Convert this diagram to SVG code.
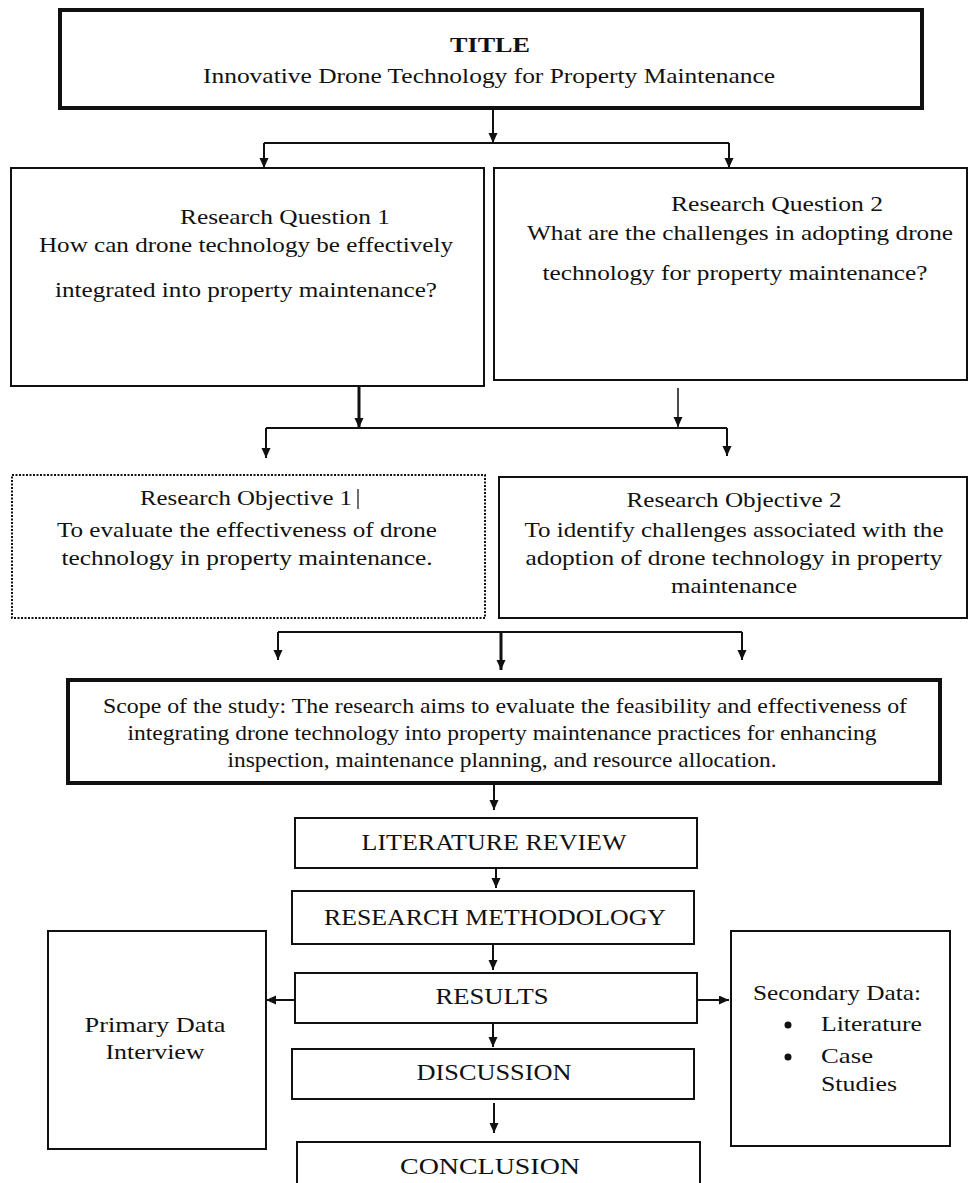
<svg xmlns="http://www.w3.org/2000/svg" width="968" height="1183" viewBox="0 0 968 1183">
<style>
text{font-family:"Liberation Serif","Times New Roman",serif;fill:#111;text-anchor:middle}
.t20{font-size:22px}
.t19{font-size:22px}
.t18{font-size:21px}
.cap{font-size:23px}
.box{fill:#fff;stroke:#111;stroke-width:2}
.thick{fill:#fff;stroke:#111;stroke-width:4}
.dot{fill:#fff;stroke:#111;stroke-width:2;stroke-dasharray:2 1.5}
.c{fill:none;stroke:#111;stroke-width:2}
.cw{fill:none;stroke:#111;stroke-width:3}
.cn{fill:none;stroke:#111;stroke-width:1.5}
.a{marker-end:url(#ah)}
</style>
<defs>
<marker id="ah" markerUnits="userSpaceOnUse" markerWidth="10" markerHeight="10" refX="10" refY="4.5" orient="auto">
<path d="M0,0 L10,4.5 L0,9 z" fill="#111"/>
</marker>
</defs>
<rect width="968" height="1183" fill="#fff"/>

<g id="connectors">
<path class="c a" d="M493,108 V143"/>
<path class="c" d="M264,143 H729"/>
<path class="c a" d="M264,143 V168"/>
<path class="c a" d="M729,143 V168"/>
<path class="cw a" d="M359,387 V428"/>
<path class="cn a" d="M678,388 V427"/>
<path class="c" d="M266,428 H727"/>
<path class="c a" d="M266,428 V458"/>
<path class="c a" d="M727,428 V456"/>
<path class="c" d="M278,632 H742"/>
<path class="c a" d="M278,632 V660"/>
<path class="cw a" d="M501,632 V670"/>
<path class="c a" d="M742,632 V660"/>
<path class="c a" d="M494,783 V810"/>
<path class="c a" d="M496,868 V888"/>
<path class="c a" d="M493,944 V970"/>
<path class="c a" d="M295,1000 H266"/>
<path class="c a" d="M697,1000 H729"/>
<path class="c a" d="M493,1023 V1047"/>
<path class="c a" d="M494,1103 V1133"/>
</g>

<g id="title">
<rect class="thick" x="60" y="10" width="862" height="98"/>
<text class="t20" x="490" y="52" font-weight="bold" textLength="80" lengthAdjust="spacingAndGlyphs">TITLE</text>
<text class="t20" x="489" y="83" textLength="572" lengthAdjust="spacingAndGlyphs">Innovative Drone Technology for Property Maintenance</text>
</g>

<g id="rq1">
<rect class="box" x="11" y="168" width="473" height="218"/>
<text class="t19" x="285" y="224" textLength="210" lengthAdjust="spacingAndGlyphs">Research Question 1</text>
<text class="t19" x="246" y="252" textLength="414" lengthAdjust="spacingAndGlyphs">How can drone technology be effectively</text>
<text class="t19" x="246" y="297" textLength="382" lengthAdjust="spacingAndGlyphs">integrated into property maintenance?</text>
</g>

<g id="rq2">
<rect class="box" x="494" y="168" width="473" height="212"/>
<text class="t19" x="777" y="211" textLength="212" lengthAdjust="spacingAndGlyphs">Research Question 2</text>
<text class="t19" x="740" y="240" textLength="426" lengthAdjust="spacingAndGlyphs">What are the challenges in adopting drone</text>
<text class="t19" x="735" y="280" textLength="385" lengthAdjust="spacingAndGlyphs">technology for property maintenance?</text>
</g>

<g id="ro1">
<rect class="dot" x="12" y="475" width="473" height="143"/>
<text class="t18" x="246" y="505" textLength="212" lengthAdjust="spacingAndGlyphs">Research Objective 1</text>
<line x1="358" y1="489" x2="358" y2="509" stroke="#111" stroke-width="1.2"/>
<text class="t18" x="247" y="537" textLength="380" lengthAdjust="spacingAndGlyphs">To evaluate the effectiveness of drone</text>
<text class="t18" x="247" y="565" textLength="371" lengthAdjust="spacingAndGlyphs">technology in property maintenance.</text>
</g>

<g id="ro2">
<rect class="box" x="499" y="477" width="468" height="141"/>
<text class="t18" x="734" y="507" textLength="215" lengthAdjust="spacingAndGlyphs">Research Objective 2</text>
<text class="t18" x="734" y="537" textLength="419" lengthAdjust="spacingAndGlyphs">To identify challenges associated with the</text>
<text class="t18" x="734" y="565" textLength="417" lengthAdjust="spacingAndGlyphs">adoption of drone technology in property</text>
<text class="t18" x="734" y="593" textLength="126" lengthAdjust="spacingAndGlyphs">maintenance</text>
</g>

<g id="scope">
<rect class="thick" x="68" y="680" width="872" height="103"/>
<text class="t18" x="505" y="713" textLength="804" lengthAdjust="spacingAndGlyphs">Scope of the study: The research aims to evaluate the feasibility and effectiveness of</text>
<text class="t18" x="502" y="740" textLength="749" lengthAdjust="spacingAndGlyphs">integrating drone technology into property maintenance practices for enhancing</text>
<text class="t18" x="502" y="767" textLength="549" lengthAdjust="spacingAndGlyphs">inspection, maintenance planning, and resource allocation.</text>
</g>

<g id="literature-review">
<rect class="box" x="295" y="818" width="402" height="50"/>
<text class="cap" x="494" y="850" textLength="265" lengthAdjust="spacingAndGlyphs">LITERATURE REVIEW</text>
</g>

<g id="research-methodology">
<rect class="box" x="292" y="891" width="402" height="53"/>
<text class="cap" x="495" y="925" textLength="342" lengthAdjust="spacingAndGlyphs">RESEARCH METHODOLOGY</text>
</g>

<g id="results">
<rect class="box" x="295" y="973" width="402" height="50"/>
<text class="cap" x="492" y="1004" textLength="113" lengthAdjust="spacingAndGlyphs">RESULTS</text>
</g>

<g id="discussion">
<rect class="box" x="292" y="1049" width="402" height="50"/>
<text class="cap" x="494" y="1080" textLength="155" lengthAdjust="spacingAndGlyphs">DISCUSSION</text>
</g>

<g id="conclusion">
<rect class="box" x="297" y="1142" width="403" height="60"/>
<text class="cap" x="490" y="1174" textLength="180" lengthAdjust="spacingAndGlyphs">CONCLUSION</text>
</g>

<g id="primary-data">
<rect class="box" x="48" y="931" width="218" height="218"/>
<text class="t19" x="155" y="1032" textLength="141" lengthAdjust="spacingAndGlyphs">Primary Data</text>
<text class="t19" x="155" y="1059" textLength="99" lengthAdjust="spacingAndGlyphs">Interview</text>
</g>

<g id="secondary-data">
<rect class="box" x="731" y="931" width="219" height="215"/>
<text class="t19" x="753" y="1000" style="text-anchor:start" textLength="168" lengthAdjust="spacingAndGlyphs">Secondary Data:</text>
<circle cx="788" cy="1025" r="3.5" fill="#111"/>
<text class="t19" x="821" y="1031" style="text-anchor:start" textLength="101" lengthAdjust="spacingAndGlyphs">Literature</text>
<circle cx="788" cy="1057" r="3.5" fill="#111"/>
<text class="t19" x="821" y="1063" style="text-anchor:start" textLength="52" lengthAdjust="spacingAndGlyphs">Case</text>
<text class="t19" x="821" y="1091" style="text-anchor:start" textLength="76" lengthAdjust="spacingAndGlyphs">Studies</text>
</g>
</svg>
